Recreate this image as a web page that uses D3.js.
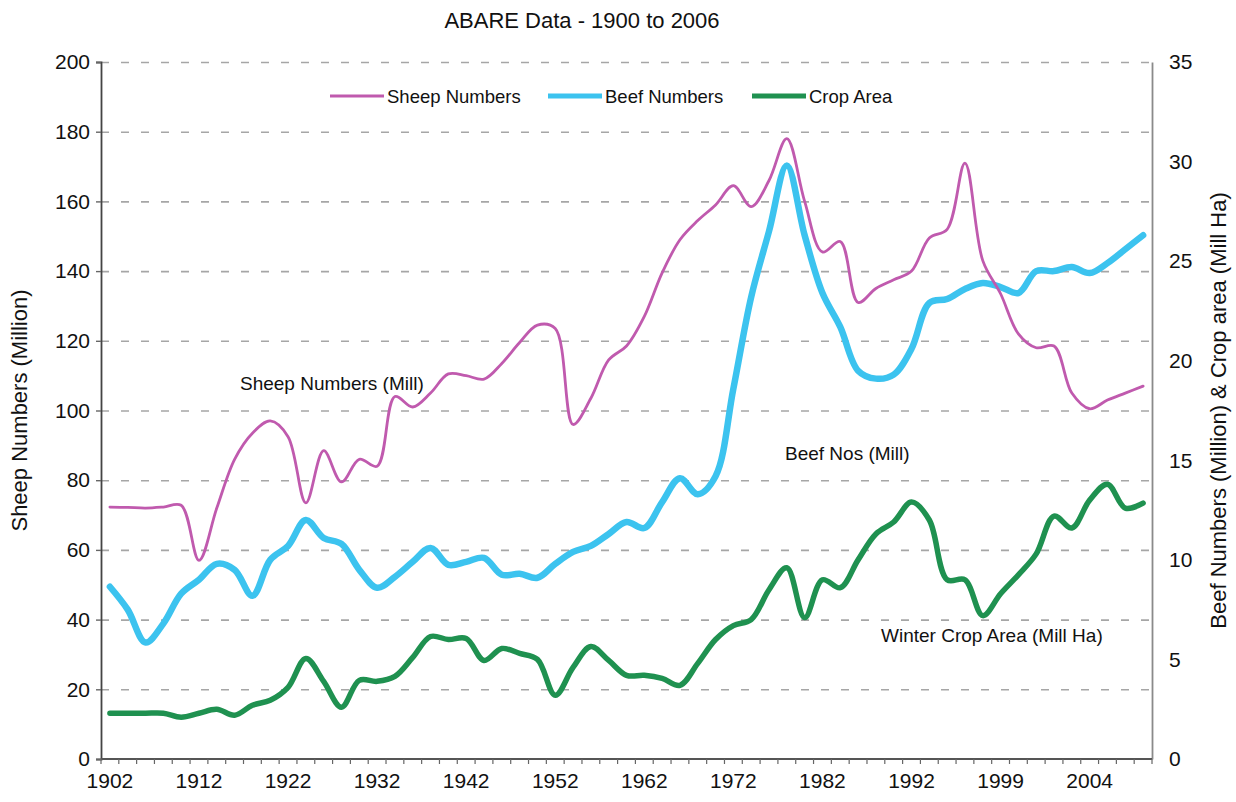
<!DOCTYPE html>
<html>
<head>
<meta charset="utf-8">
<script src="https://cdn.jsdelivr.net/npm/d3@7"></script>
<style>
    body { margin: 0; background: white; }
    svg text { font-family: "Liberation Sans", Arial, sans-serif; fill: #111; }
</style>
</head>
<body>
<svg id="chart"></svg>
<script>
"use strict";

// Category axis: 59 categories, only every 5th one carries a label
const tick_labels = ["1902", "1912", "1922", "1932", "1942", "1952",
                     "1962", "1972", "1982", "1992", "1999", "2004"];
const n_categories = 59;
const label_every = 5;

// Millions of sheep, left axis
const sheep_numbers = [
    72.3, 72.2, 72.0, 72.3, 72.8, 57.0, 72.0, 86.0, 93.5, 97.0,
    92.5, 73.5, 88.5, 79.5, 86.0, 84.0, 104.0, 101.0, 105.0, 110.5,
    110.0, 109.0, 113.5, 119.5, 124.5, 123.5, 96.0, 103.5, 114.5, 118.5,
    127.0, 139.5, 149.0, 154.5, 159.0, 164.5, 158.5, 166.0, 178.0, 160.0,
    145.5, 148.5, 131.0, 135.0, 137.5, 140.0, 149.5, 152.0, 171.0, 143.0,
    133.5, 122.0, 118.0, 118.5, 105.0, 100.5, 103.0, 105.0, 107.0
];

// Millions of beef cattle, right axis
const beef_numbers = [
    8.65, 7.5, 5.85, 6.8, 8.3, 9.0, 9.8, 9.5, 8.2, 10.0,
    10.7, 12.0, 11.1, 10.8, 9.5, 8.6, 9.15, 9.9, 10.6, 9.75,
    9.9, 10.1, 9.25, 9.3, 9.1, 9.8, 10.4, 10.7, 11.3, 11.9,
    11.6, 12.9, 14.1, 13.3, 14.2, 18.6, 23.2, 26.5, 29.8, 26.3,
    23.4, 21.7, 19.5, 19.1, 19.3, 20.6, 22.9, 23.1, 23.6, 23.9,
    23.7, 23.4, 24.5, 24.5, 24.7, 24.4, 24.9, 25.6, 26.3
];

// Winter crop area, million ha, right axis
const crop_area = [
    2.3, 2.3, 2.3, 2.3, 2.1, 2.3, 2.5, 2.2, 2.7, 2.95,
    3.6, 5.05, 3.9, 2.6, 3.95, 3.9, 4.15, 5.1, 6.15, 6.0,
    6.05, 4.95, 5.55, 5.3, 5.0, 3.2, 4.6, 5.65, 4.95, 4.2,
    4.2, 4.05, 3.7, 4.8, 6.0, 6.7, 7.0, 8.5, 9.6, 7.1,
    9.0, 8.6, 10.0, 11.3, 11.9, 12.9, 12.0, 9.0, 9.0, 7.2,
    8.3, 9.25, 10.3, 12.2, 11.6, 13.0, 13.8, 12.6, 12.85
];

const left_ticks = [0, 20, 40, 60, 80, 100, 120, 140, 160, 180, 200];
const right_ticks = [0, 5, 10, 15, 20, 25, 30, 35];

const series = [
    {name: "Sheep Numbers", values: sheep_numbers, axis: "left",  colour: "#c05aae", width: 2.8},
    {name: "Beef Numbers",  values: beef_numbers,  axis: "right", colour: "#3cc3ef", width: 6.5},
    {name: "Crop Area",     values: crop_area,     axis: "right", colour: "#1f9150", width: 5.5}
];

const width = 1236;
const height = 802;
const margins = {top: 62, right: 84, bottom: 43, left: 101};
const plot_width = width - margins.left - margins.right;
const plot_height = height - margins.top - margins.bottom;

const svg = d3.select("#chart")
    .attr("width", width)
    .attr("height", height)
    .style("background-color", "white");

const plot = svg.append("g")
    .attr("transform", "translate(" + margins.left + "," + margins.top + ")");

// Scales
const x_scale = d3.scaleBand()
    .domain(d3.range(n_categories))
    .range([0, plot_width])
    .padding(0);
const y_left = d3.scaleLinear().domain([0, 200]).range([plot_height, 0]);
const y_right = d3.scaleLinear().domain([0, 35]).range([plot_height, 0]);

const x_center = function (i) { return x_scale(i) + x_scale.bandwidth() / 2; };

// Dashed grid lines from the left axis
plot.append("g")
    .attr("class", "grid")
    .call(d3.axisLeft(y_left).tickValues(left_ticks.slice(1)).tickSize(-plot_width).tickFormat(""))
    .call(function (g) { g.select(".domain").remove(); })
    .selectAll("line")
    .attr("stroke", "#a6a6a6")
    .attr("stroke-width", 1.6)
    .attr("stroke-dasharray", "8,12");

// Left axis
const left_axis = plot.append("g")
    .attr("class", "y_axis")
    .call(d3.axisLeft(y_left).tickValues(left_ticks).tickSize(5).tickPadding(6));
left_axis.select(".domain").attr("stroke", "#444").attr("stroke-width", 1.8);
left_axis.selectAll("line").attr("stroke", "#666").attr("stroke-width", 1.4);
left_axis.selectAll("text").style("font-size", "21px").attr("fill", "#111");

// Right axis, no tick marks
const right_axis = plot.append("g")
    .attr("class", "y_axis_right")
    .attr("transform", "translate(" + plot_width + ",0)")
    .call(d3.axisRight(y_right).tickValues(right_ticks).tickSize(0).tickPadding(17));
right_axis.select(".domain").attr("stroke", "#8a8a8a").attr("stroke-width", 1.8);
right_axis.selectAll("text").style("font-size", "21px").attr("fill", "#111");

// Bottom axis: tick marks between categories, labels every 5th category
const x_axis = plot.append("g")
    .attr("class", "x_axis")
    .attr("transform", "translate(0," + plot_height + ")");

x_axis.append("line")
    .attr("x1", 0).attr("x2", plot_width)
    .attr("stroke", "#555").attr("stroke-width", 1.8);

x_axis.selectAll(".tick_mark")
    .data(d3.range(n_categories + 1))
    .enter().append("line")
    .attr("class", "tick_mark")
    .attr("x1", function (d) { return d * x_scale.step(); })
    .attr("x2", function (d) { return d * x_scale.step(); })
    .attr("y1", 0).attr("y2", 5)
    .attr("stroke", "#666").attr("stroke-width", 1.2);

x_axis.selectAll(".tick_label")
    .data(tick_labels)
    .enter().append("text")
    .attr("class", "tick_label")
    .attr("x", function (d, i) { return x_center(i * label_every); })
    .attr("y", 29)
    .attr("text-anchor", "middle")
    .style("font-size", "21px")
    .text(function (d) { return d; });

// Smoothed lines, drawn crop first so sheep stays on top
const line_for = function (s) {
    const y_scale = s.axis === "left" ? y_left : y_right;
    return d3.line()
        .curve(d3.curveCatmullRom.alpha(0.5))
        .x(function (d, i) { return x_center(i); })
        .y(function (d) { return y_scale(d); });
};

series.slice().reverse().forEach(function (s) {
    plot.append("path")
        .datum(s.values)
        .attr("d", line_for(s))
        .attr("fill", "none")
        .attr("stroke", s.colour)
        .attr("stroke-width", s.width)
        .attr("stroke-linejoin", "round")
        .attr("stroke-linecap", "round");
});

// Title
svg.append("text")
    .attr("x", 582)
    .attr("y", 28)
    .attr("text-anchor", "middle")
    .style("font-size", "22px")
    .text("ABARE Data - 1900 to 2006");

// Axis titles
svg.append("text")
    .attr("transform", "translate(27," + (margins.top + plot_height / 2) + ") rotate(-90)")
    .attr("text-anchor", "middle")
    .style("font-size", "22px")
    .text("Sheep Numbers (Million)");

svg.append("text")
    .attr("transform", "translate(1226," + (margins.top + plot_height / 2) + ") rotate(-90)")
    .attr("text-anchor", "middle")
    .style("font-size", "22px")
    .text("Beef Numbers (Million) & Crop area (Mill Ha)");

// Legend
const legend_x = [330, 548, 752];
const legend = svg.append("g").attr("class", "legend");
series.forEach(function (s, i) {
    legend.append("line")
        .attr("x1", legend_x[i]).attr("x2", legend_x[i] + 54)
        .attr("y1", 96).attr("y2", 96)
        .attr("stroke", s.colour)
        .attr("stroke-width", s.axis === "left" ? 2.8 : 5);
    legend.append("text")
        .attr("x", legend_x[i] + 57)
        .attr("y", 103)
        .style("font-size", "18.5px")
        .text(s.name);
});

// Labels placed next to the lines
const notes = [
    {text: "Sheep Numbers (Mill)", x: 240, y: 390},
    {text: "Beef Nos (Mill)", x: 785, y: 460},
    {text: "Winter Crop Area (Mill Ha)", x: 881, y: 642}
];
svg.selectAll(".note")
    .data(notes)
    .enter().append("text")
    .attr("class", "note")
    .attr("x", function (d) { return d.x; })
    .attr("y", function (d) { return d.y; })
    .style("font-size", "19px")
    .text(function (d) { return d.text; });
</script>
</body>
</html>
